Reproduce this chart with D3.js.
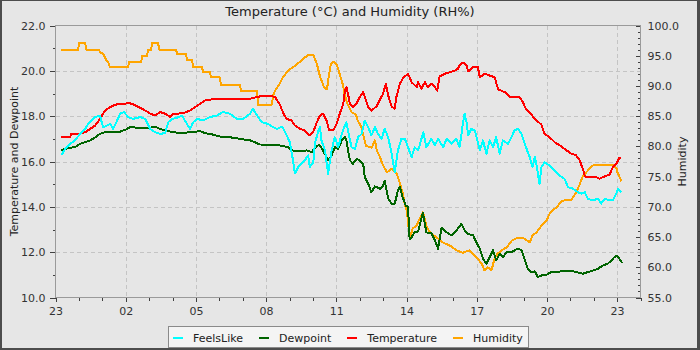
<!DOCTYPE html>
<html><head><meta charset="utf-8">
<script src="https://cdn.jsdelivr.net/npm/d3@7"></script>
<style>
body{margin:0;background:#fff}
svg{display:block}
text{font-family:"DejaVu Sans",sans-serif}
</style>
</head><body>
<svg id="c" width="700" height="350"></svg>
<script>
// time axis: minutes after 23:00 (start of chart)
const xTickMinutes = [0,180,360,540,720,900,1080,1260,1440];
const xTickLabels  = ["23","02","05","08","11","14","17","20","23"];
const xMinorMinutes = d3.range(0,1501,60);
const leftTicks  = [10,12,14,16,18,20,22];
const leftMinor  = [11,13,15,17,19,21];
const rightTicks = [55,60,65,70,75,80,85,90,95,100];
const rightMinor = d3.range(55,101,1);

const seriesNames  = ["FeelsLike","Dewpoint","Temperature","Humidity"];
const seriesColors = ["#00ffff","#006400","#ff0000","#ffa500"];

// [minutes after 23:00, value]
const feelsLike = [[15,16.27],[25,16.56],[38,16.78],[50,16.93],[63,17.22],[76,17.44],[84,17.66],[94,17.84],[102,17.96],[114,18.03],[122,17.51],[132,17.59],[140,17.66],[148,17.44],[158,17.81],[166,18.11],[176,18.18],[186,17.96],[199,17.88],[217,17.96],[230,17.88],[243,17.44],[255,17.29],[268,17.22],[281,17.25],[289,17.73],[299,17.88],[312,17.93],[324,18.03],[337,17.66],[345,17.44],[353,17.73],[363,17.88],[378,17.81],[396,17.96],[414,18.03],[429,18.18],[447,18.11],[465,17.88],[481,17.88],[499,18.11],[506,18.33],[517,18.03],[529,17.73],[545,17.66],[558,17.51],[568,17.44],[581,17.54],[591,17.22],[601,16.85],[609,16.05],[614,15.47],[622,15.75],[631,15.90],[639,16.05],[648,16.27],[652,15.75],[661,15.96],[665,16.78],[674,17.37],[678,17.51],[682,16.93],[691,16.49],[699,15.46],[708,16.49],[716,17.07],[725,16.63],[734,17.22],[742,17.59],[746,17.73],[750,17.37],[759,16.63],[768,16.56],[776,17.07],[785,17.22],[793,17.81],[802,17.51],[810,17.15],[819,17.51],[827,17.22],[836,17.00],[844,17.44],[853,17.07],[862,16.34],[870,15.53],[878,16.49],[887,17.00],[896,17.00],[904,16.63],[913,16.19],[921,16.63],[930,16.49],[943,17.29],[951,16.63],[964,17.00],[973,16.71],[981,17.00],[994,16.63],[1003,17.00],[1015,16.78],[1028,17.00],[1036,16.63],[1041,17.22],[1045,17.73],[1049,18.11],[1054,17.73],[1058,17.15],[1066,17.44],[1075,17.37],[1083,16.85],[1088,16.49],[1096,16.93],[1105,16.34],[1113,16.93],[1122,16.63],[1130,17.07],[1139,16.34],[1147,16.93],[1160,16.78],[1169,17.07],[1177,17.37],[1186,17.44],[1195,17.22],[1203,16.78],[1216,16.19],[1223,15.75],[1229,16.19],[1233,15.90],[1241,15.02],[1246,15.75],[1254,15.97],[1267,15.82],[1280,15.60],[1293,15.38],[1305,15.24],[1314,14.87],[1327,14.80],[1339,14.65],[1348,14.58],[1357,14.65],[1365,14.36],[1378,14.28],[1391,14.36],[1399,14.14],[1408,14.36],[1421,14.28],[1429,14.28],[1438,14.58],[1442,14.80],[1451,14.65]];

const dewpoint = [[15,16.49],[25,16.56],[38,16.61],[50,16.63],[63,16.78],[76,16.85],[89,16.93],[102,17.07],[114,17.22],[127,17.29],[140,17.29],[166,17.32],[179,17.40],[191,17.51],[217,17.49],[243,17.49],[255,17.54],[268,17.44],[281,17.37],[294,17.32],[319,17.25],[345,17.29],[371,17.34],[383,17.25],[396,17.22],[422,17.10],[447,17.07],[473,17.00],[499,16.93],[511,16.85],[524,16.75],[550,16.74],[575,16.71],[596,16.63],[606,16.49],[627,16.44],[644,16.49],[657,16.41],[665,16.60],[673,16.71],[678,16.71],[686,16.49],[699,16.05],[708,16.27],[716,16.63],[725,16.56],[734,16.93],[742,17.07],[746,16.93],[750,16.49],[755,16.05],[763,15.90],[772,16.12],[780,16.05],[789,15.90],[793,15.31],[802,15.02],[810,14.65],[819,14.90],[832,14.80],[840,14.94],[844,15.16],[853,14.37],[862,14.14],[870,14.14],[878,14.72],[883,14.87],[890,14.43],[898,14.06],[904,13.99],[908,12.56],[913,12.65],[921,12.91],[930,12.91],[938,13.49],[942,13.75],[951,12.87],[964,12.83],[973,12.52],[981,12.15],[990,13.07],[1003,12.88],[1015,12.74],[1028,12.96],[1041,13.25],[1049,12.96],[1058,12.81],[1071,12.74],[1079,12.44],[1088,12.15],[1096,11.71],[1105,11.49],[1113,11.78],[1122,12.08],[1130,11.63],[1139,11.93],[1147,11.78],[1156,11.99],[1169,11.99],[1177,12.08],[1186,12.16],[1195,12.08],[1203,11.68],[1211,11.27],[1220,11.12],[1229,11.15],[1237,10.90],[1246,10.97],[1259,11.00],[1271,11.12],[1288,11.12],[1301,11.19],[1318,11.19],[1335,11.12],[1352,11.05],[1365,11.12],[1378,11.19],[1391,11.27],[1403,11.41],[1416,11.49],[1425,11.63],[1433,11.78],[1439,11.85],[1446,11.71],[1453,11.53]];

const temperature = [[15,17.10],[38,17.10],[40,17.22],[63,17.22],[76,17.29],[89,17.44],[102,17.59],[114,17.88],[127,18.25],[140,18.40],[153,18.50],[166,18.55],[179,18.55],[186,18.60],[199,18.52],[217,18.37],[230,18.25],[243,18.11],[255,18.03],[268,18.18],[281,18.11],[294,17.96],[301,18.11],[312,18.11],[327,18.13],[345,18.25],[358,18.40],[371,18.55],[383,18.69],[401,18.74],[447,18.75],[499,18.77],[524,18.87],[550,18.91],[563,18.84],[575,18.52],[583,18.18],[592,17.88],[605,17.81],[614,17.59],[627,17.44],[639,17.37],[652,17.15],[661,17.32],[670,17.72],[678,18.03],[686,18.12],[695,17.81],[702,17.37],[712,17.37],[721,17.66],[729,18.11],[738,18.55],[742,19.13],[746,19.28],[750,18.99],[755,18.52],[763,18.40],[772,18.55],[780,18.84],[789,19.06],[796,18.69],[802,18.40],[810,18.25],[823,18.43],[832,18.74],[840,18.99],[847,19.43],[853,18.91],[862,18.43],[870,18.33],[874,18.84],[883,19.43],[891,19.68],[904,19.87],[913,19.50],[926,19.28],[930,19.50],[938,19.21],[947,19.50],[955,19.28],[964,19.43],[973,19.28],[979,19.13],[985,19.75],[998,19.87],[1011,19.94],[1024,20.01],[1032,20.09],[1036,20.24],[1045,20.37],[1054,20.24],[1058,19.97],[1071,20.19],[1083,20.16],[1088,19.72],[1101,19.87],[1113,19.79],[1126,19.72],[1135,19.18],[1152,19.06],[1165,18.84],[1190,18.84],[1199,18.60],[1207,18.29],[1220,18.07],[1233,17.81],[1246,17.63],[1254,17.22],[1267,17.07],[1280,16.85],[1293,16.71],[1305,16.56],[1322,16.35],[1335,16.27],[1344,16.05],[1352,15.68],[1357,15.38],[1361,15.31],[1387,15.31],[1395,15.24],[1408,15.34],[1421,15.43],[1429,15.74],[1438,15.90],[1446,16.16],[1451,16.12]];

const humidity = [[15,96.0],[58,96.0],[61,97.1],[76,97.1],[79,96.0],[112,96.0],[114,95.6],[122,95.3],[130,94.3],[135,93.9],[140,93.1],[186,93.1],[189,94.0],[220,94.0],[222,95.0],[235,95.0],[237,96.0],[245,96.0],[248,97.1],[263,97.1],[266,96.0],[309,96.0],[312,95.3],[335,95.3],[337,94.3],[350,94.3],[353,93.1],[376,93.1],[378,92.3],[396,92.3],[399,91.4],[422,91.4],[424,90.1],[473,90.1],[476,89.2],[517,89.2],[519,86.9],[555,86.9],[558,88.4],[563,89.2],[575,90.4],[583,91.4],[597,92.6],[609,93.1],[627,94.0],[639,94.7],[648,95.1],[661,95.1],[670,93.7],[678,91.6],[688,89.9],[696,89.4],[701,91.7],[706,93.7],[714,94.0],[722,93.4],[729,91.9],[737,90.2],[742,88.4],[750,86.8],[760,85.6],[770,85.3],[775,84.3],[785,83.1],[788,82.1],[796,80.1],[811,79.8],[819,81.0],[824,79.3],[832,78.2],[839,77.0],[850,75.7],[862,76.3],[875,75.5],[883,73.9],[891,72.2],[896,70.2],[901,69.4],[908,64.8],[916,66.4],[926,66.9],[934,68.1],[942,69.1],[952,66.7],[960,65.8],[978,64.9],[993,64.1],[1011,63.6],[1029,62.8],[1044,62.4],[1062,62.8],[1080,61.6],[1093,60.6],[1100,59.5],[1108,60.0],[1118,59.5],[1126,61.5],[1134,62.3],[1144,62.8],[1157,63.3],[1170,64.4],[1182,64.8],[1198,64.9],[1216,64.1],[1223,65.3],[1234,65.8],[1246,66.9],[1259,67.7],[1267,68.9],[1280,69.7],[1285,69.9],[1298,71.0],[1323,71.2],[1336,72.5],[1344,73.7],[1351,74.9],[1362,75.8],[1377,76.8],[1387,77.0],[1428,77.0],[1439,76.3],[1441,75.7],[1446,75.0],[1451,74.2]];

const svg = d3.select("#c");
svg.append("rect").attr("width",700).attr("height",350).attr("fill","#4d4d4d");
svg.append("rect").attr("x",2).attr("y",1).attr("width",695).attr("height",347).attr("fill","#e6e6e6");

const L=55.5, R=640.5, T=25.5, B=297.5;
const x  = d3.scaleLinear().domain([0,1500]).range([L,R]);
const yL = d3.scaleLinear().domain([10,22]).range([B,T]);
const yR = d3.scaleLinear().domain([55,100]).range([B,T]);

// grid
const grid = svg.append("g").attr("stroke","#c4c4c4").attr("stroke-dasharray","4,3").attr("shape-rendering","crispEdges");
xTickMinutes.filter(d=>d>0).forEach(d=>{
  grid.append("line").attr("x1",Math.round(x(d))+0.5).attr("x2",Math.round(x(d))+0.5).attr("y1",T).attr("y2",B);
});
leftTicks.filter(d=>d>10&&d<22).forEach(d=>{
  grid.append("line").attr("y1",Math.round(yL(d))+0.5).attr("y2",Math.round(yL(d))+0.5).attr("x1",L).attr("x2",R);
});

// series lines
const line = (ys)=>d3.line().x(d=>x(d[0])).y(d=>ys(d[1]));
const plotG = svg.append("g").attr("fill","none").attr("stroke-width",2).attr("stroke-linejoin","round").attr("shape-rendering","crispEdges");
plotG.append("path").datum(humidity).attr("d",line(yR)).attr("stroke",seriesColors[3]);
plotG.append("path").datum(temperature).attr("d",line(yL)).attr("stroke",seriesColors[2]);
plotG.append("path").datum(dewpoint).attr("d",line(yL)).attr("stroke",seriesColors[1]);
plotG.append("path").datum(feelsLike).attr("d",line(yL)).attr("stroke",seriesColors[0]);

function styleAxis(g){
  g.select(".domain").remove();
  g.selectAll(".tick line").attr("stroke","#404040").attr("shape-rendering","crispEdges");
  g.selectAll(".tick text").attr("fill","#333").style("font-size","11px").style("font-family","'DejaVu Sans',sans-serif");
}
// left axis
svg.append("g").attr("transform",`translate(${L},0)`)
  .call(d3.axisLeft(yL).tickValues(leftTicks).tickFormat(d3.format(".1f")).tickSize(6).tickSizeOuter(0).tickPadding(4)).call(styleAxis);
svg.append("g").attr("transform",`translate(${L},0)`)
  .call(d3.axisLeft(yL).tickValues(leftMinor).tickFormat("").tickSize(3).tickSizeOuter(0)).call(styleAxis);
// right axis (ticks inside)
svg.append("g").attr("transform",`translate(${R},0)`)
  .call(d3.axisRight(yR).tickValues(rightTicks).tickFormat(d3.format(".1f")).tickSize(-5).tickSizeOuter(0).tickPadding(7)).call(styleAxis);
svg.append("g").attr("transform",`translate(${R},0)`)
  .call(d3.axisRight(yR).tickValues(rightMinor.filter(d=>d%5!==0)).tickFormat("").tickSize(-3).tickSizeOuter(0)).call(styleAxis);
// bottom axis
svg.append("g").attr("transform",`translate(0,${B})`)
  .call(d3.axisBottom(x).tickValues(xTickMinutes).tickFormat((d,i)=>xTickLabels[i]).tickSize(4).tickSizeOuter(0).tickPadding(6)).call(styleAxis);
svg.append("g").attr("transform",`translate(0,${B})`)
  .call(d3.axisBottom(x).tickValues(xMinorMinutes.filter(d=>d%180!==0)).tickFormat("").tickSize(3).tickSizeOuter(0)).call(styleAxis);

// plot outline / axis lines
svg.append("rect").attr("x",L).attr("y",T).attr("width",R-L).attr("height",B-T)
  .attr("fill","none").attr("stroke","#9a9a9a").attr("shape-rendering","crispEdges");

// titles
svg.append("text").attr("x",350).attr("y",16).attr("text-anchor","middle")
  .attr("fill","#222").style("font-size","13px").text("Temperature (°C) and Humidity (RH%)");
svg.append("text").attr("transform",`translate(18,${(T+B)/2}) rotate(-90)`).attr("text-anchor","middle")
  .attr("fill","#222").style("font-size","11px").text("Temperature and Dewpoint");
svg.append("text").attr("transform",`translate(686,${(T+B)/2}) rotate(-90)`).attr("text-anchor","middle")
  .attr("fill","#222").style("font-size","11px").text("Humidity");

// legend
const lg = svg.append("g");
const lgRect = lg.append("rect").attr("x",168.5).attr("y",326.5).attr("height",21)
  .attr("fill","#f4f4f4").attr("stroke","#8a8a8a").attr("shape-rendering","crispEdges");
let lx = 173;
seriesNames.forEach((name,i)=>{
  lg.append("line").attr("x1",lx).attr("x2",lx+10).attr("y1",338).attr("y2",338)
    .attr("stroke",seriesColors[i]).attr("stroke-width",2).attr("shape-rendering","crispEdges");
  const t = lg.append("text").attr("x",lx+20).attr("y",341.5).attr("fill","#222")
    .style("font-size","11px").text(name);
  const w = t.node().getComputedTextLength();
  lx = lx + 20 + w + (i<seriesNames.length-1 ? 16 : 6);
});
lgRect.attr("width", lx - 168.5);
</script>
</body></html>
